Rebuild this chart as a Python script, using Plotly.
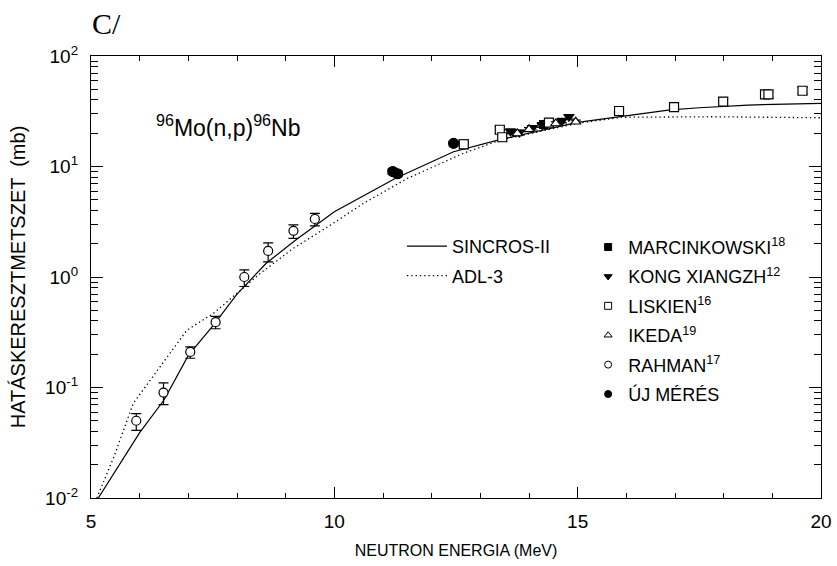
import plotly.graph_objects as go

# --- model curves ---
sincros_E = [5.15, 6.0, 6.5, 7.0, 7.5, 8.0, 8.6, 9.2, 10.0, 11.25, 12.45, 13.42, 15.0, 16.9, 17.5, 18.5, 20.0]
sincros_s = [0.01, 0.039, 0.077, 0.195, 0.36, 0.70, 1.33, 2.15, 3.9, 7.8, 13.6, 17.6, 25.1, 32.5, 34.0, 36.0, 37.3]

adl_E = [5.12, 5.46, 5.87, 6.42, 6.97, 7.52, 8.0, 8.48, 9.16, 9.92, 10.6, 11.5, 12.66, 13.42, 15.0, 15.9, 17.8, 20.0]
adl_s = [0.01, 0.023, 0.072, 0.155, 0.33, 0.47, 0.71, 1.08, 1.82, 2.95, 4.64, 7.8, 13.2, 17.4, 24.6, 27.9, 28.2, 27.6]

# --- experimental data ---
marc_E = [14.3]
marc_s = [24.0]
marc_err = [1.0]

kong_E = [13.62, 13.80, 14.07, 14.27, 14.68, 14.82]
kong_s = [20.8, 20.3, 22.4, 23.7, 26.0, 28.2]
kong_err = [1.0, 1.0, 1.0, 1.1, 1.2, 1.3]

lisk_E = [12.66, 13.40, 13.45, 14.41, 15.85, 16.98, 17.99, 18.85, 18.92, 19.62]
lisk_s = [15.9, 21.5, 18.4, 24.9, 31.8, 34.5, 38.6, 45.0, 45.0, 48.5]
lisk_err = [1.5, 1.6, 1.5, 1.8, 2.6, 2.8, 3.0, 3.2, 3.2, 3.4]

ikeda_E = [13.76, 14.0, 14.55, 14.96]
ikeda_s = [19.9, 21.7, 24.5, 25.4]
ikeda_err = [0.8, 0.8, 0.9, 0.9]

rahman_E = [5.93, 6.49, 7.04, 7.56, 8.15, 8.64, 9.16, 9.60]
rahman_s = [0.050, 0.090, 0.21, 0.39, 1.0, 1.72, 2.62, 3.35]
rahman_errp = [0.008, 0.02, 0.023, 0.05, 0.16, 0.32, 0.34, 0.42]
rahman_errm = [0.009, 0.02, 0.026, 0.05, 0.18, 0.35, 0.38, 0.45]

uj_E = [11.2, 11.3, 12.45]
uj_s = [9.0, 8.6, 16.2]
uj_err = [0.5, 0.5, 0.8]

y_tickvals = [0.01, 0.1, 1, 10, 100]
y_ticktext = ["10<sup>-2</sup>", "10<sup>-1</sup>", "10<sup>0</sup>", "10<sup>1</sup>", "10<sup>2</sup>"]
x_tickvals = [5, 10, 15, 20]

FONT = "Liberation Sans, Arial, Helvetica, sans-serif"
BLK = "black"

fig = go.Figure()

fig.add_trace(go.Scatter(x=sincros_E, y=sincros_s, mode="lines", name="SINCROS-II",
                         line=dict(color=BLK, width=1.2), legend="legend", legendgroup="a"))
fig.add_trace(go.Scatter(x=adl_E, y=adl_s, mode="lines", name="ADL-3",
                         line=dict(color=BLK, width=1.3, dash="1.3px,3px"), legend="legend", legendgroup="b"))

def pts(E, s, ep, em, sym, filled, size, name, grp):
    fill = BLK if filled else "white"
    fig.add_trace(go.Scatter(
        x=E, y=s, mode="markers", showlegend=False,
        marker=dict(symbol=sym, size=size, color=fill, line=dict(color=BLK, width=1.2)),
        error_y=dict(type="data", array=ep, arrayminus=em, color=BLK, thickness=1.2, width=5),
    ))
    fig.add_trace(go.Scatter(
        x=[None], y=[None], mode="markers", name=name, legend="legend2", legendgroup=grp,
        marker=dict(symbol=sym, size=7, color=fill, line=dict(color=BLK, width=1)),
    ))

pts(marc_E, marc_s, marc_err, marc_err, "square", True, 8, "MARCINKOWSKI<sup>18</sup>", "g1")
pts(kong_E, kong_s, kong_err, kong_err, "triangle-down", True, 9, "KONG XIANGZH<sup>12</sup>", "g2")
pts(lisk_E, lisk_s, lisk_err, lisk_err, "square", False, 9, "LISKIEN<sup>16</sup>", "g3")
pts(ikeda_E, ikeda_s, ikeda_err, ikeda_err, "triangle-up", False, 9, "IKEDA<sup>19</sup>", "g4")
pts(rahman_E, rahman_s, rahman_errp, rahman_errm, "circle", False, 9, "RAHMAN<sup>17</sup>", "g5")
pts(uj_E, uj_s, uj_err, uj_err, "circle", True, 10, "ÚJ MÉRÉS", "g6")

fig.update_layout(
    width=837, height=566,
    margin=dict(l=91, r=16, t=56, b=68),
    paper_bgcolor="white", plot_bgcolor="white",
    font=dict(family=FONT, color=BLK, size=18),
    showlegend=True,
    legend=dict(x=0.426, y=0.611, xanchor="left", yanchor="top", bgcolor="rgba(0,0,0,0)",
                font=dict(size=18, family=FONT), tracegroupgap=3, itemwidth=40),
    legend2=dict(x=0.681, y=0.609, xanchor="left", yanchor="top", bgcolor="rgba(0,0,0,0)",
                 font=dict(size=18, family=FONT), tracegroupgap=3),
    xaxis=dict(range=[5, 20], tickvals=x_tickvals, ticks="inside", ticklen=11, tickwidth=1.3,
               tickcolor=BLK, showline=True, linecolor=BLK, linewidth=1.3, mirror="ticks",
               showgrid=False, zeroline=False, tickfont=dict(size=19, family=FONT),
               automargin=False, ticklabelstandoff=6,
               minor=dict(dtick=1, ticks="inside", ticklen=5, tickwidth=1.1, tickcolor=BLK, showgrid=False),
               title=dict(text="NEUTRON ENERGIA (MeV)", font=dict(size=16, family=FONT), standoff=13)),
    yaxis=dict(type="log", range=[-2, 2], tickvals=y_tickvals, ticktext=y_ticktext, ticks="inside", ticklen=12,
               tickwidth=1.3, tickcolor=BLK, showline=True, linecolor=BLK, linewidth=1.3, mirror="ticks",
               showgrid=False, zeroline=False, tickfont=dict(size=19, family=FONT),
               automargin=False, ticklabelstandoff=8,
               minor=dict(dtick="D1", ticks="inside", ticklen=7, tickwidth=1.1, tickcolor=BLK, showgrid=False),
               title=dict(text="HATÁSKERESZTMETSZET \u00a0(mb)", font=dict(size=20, family=FONT), standoff=14)),
)

fig.add_annotation(text="<sup>96</sup>Mo(n,p)<sup>96</sup>Nb", xref="paper", yref="paper",
                   x=0.086, y=0.841, xanchor="left", yanchor="middle", showarrow=False,
                   font=dict(size=23, family=FONT, color=BLK))
fig.add_annotation(text="C/", xref="paper", yref="paper", x=-0.002, y=1.074, xanchor="left",
                   yanchor="middle", showarrow=False,
                   font=dict(size=30, family="Liberation Serif, Times New Roman, serif", color=BLK))

# remove the browser's default 8px body margin so the 837x566 figure fills the window exactly
fig.write_html("out.html", config={"displayModeBar": False},
               post_script="document.body.style.margin='0px';")
